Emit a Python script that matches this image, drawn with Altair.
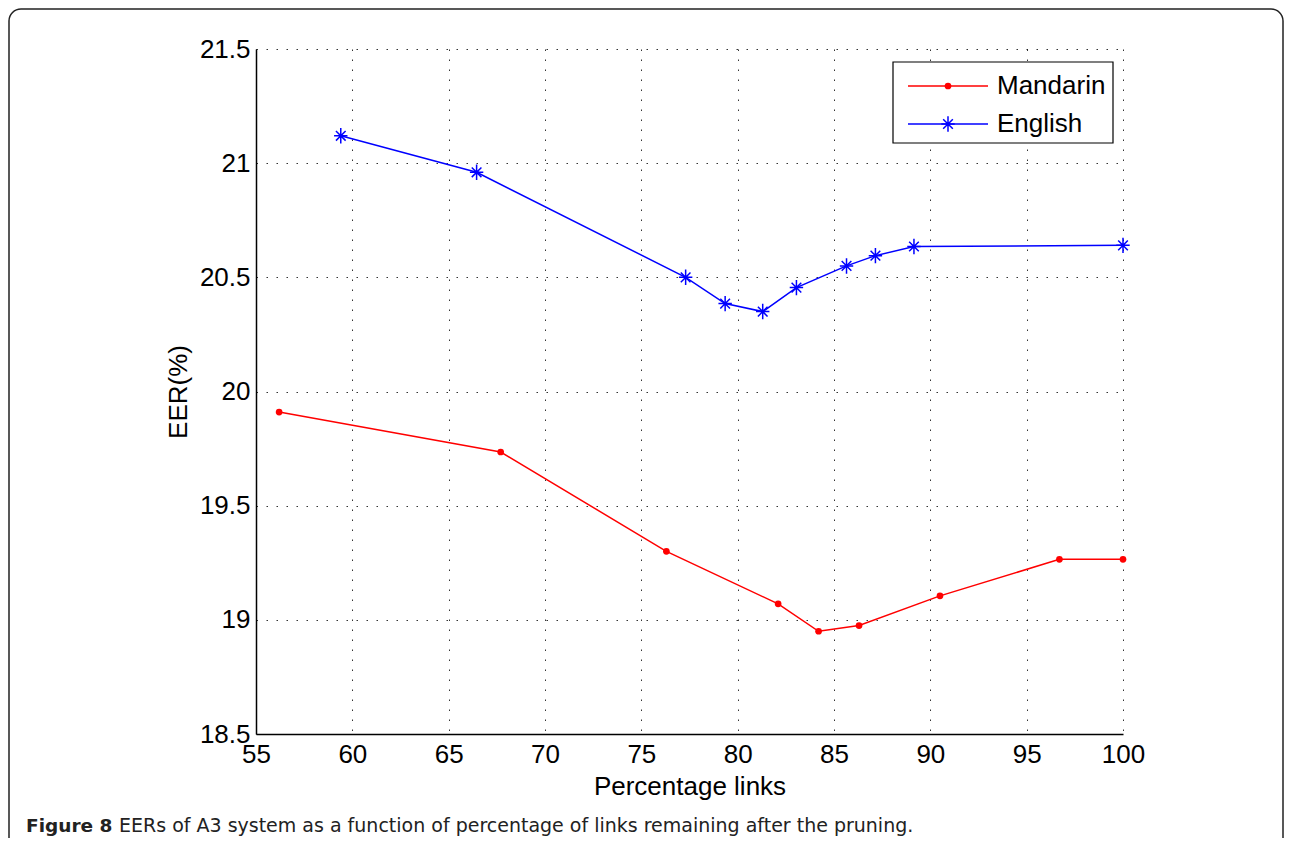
import altair as alt
import pandas as pd

# ---- data ----
series_names = ["Mandarin", "English"]
mandarin_x = [56.2, 67.7, 76.3, 82.1, 84.2, 86.3, 90.5, 96.7, 100.0]
mandarin_y = [19.91, 19.735, 19.30, 19.07, 18.95, 18.975, 19.105, 19.265, 19.265]
english_x = [59.4, 66.45, 77.3, 79.35, 81.3, 83.05, 85.65, 87.15, 89.15, 100.0]
english_y = [21.12, 20.96, 20.50, 20.385, 20.35, 20.455, 20.55, 20.595, 20.635, 20.64]
x_ticks = [55, 60, 65, 70, 75, 80, 85, 90, 95, 100]
y_ticks = [18.5, 19.0, 19.5, 20.0, 20.5, 21.0, 21.5]
caption_bold = "Figure 8"
caption_text = "EERs of A3 system as a function of percentage of links remaining after the pruning."

df = pd.concat([
    pd.DataFrame({"links": mandarin_x, "eer": mandarin_y, "series": "Mandarin", "order": range(len(mandarin_x))}),
    pd.DataFrame({"links": english_x, "eer": english_y, "series": "English", "order": range(len(english_x))}),
], ignore_index=True)
legend_df = pd.DataFrame({"series": series_names, "row": list(range(len(series_names)))})

FONT = "Liberation Sans"
CAP_FONT = "DejaVu Sans"
colors = ["#ff0000", "#0000ff"]
ASTER = "M0,-1.15L0,1.15M-1,0L1,0M-0.72,-0.72L0.72,0.72M-0.72,0.72L0.72,-0.72"

W, H = 867, 685

x_enc = alt.X("links:Q", scale=alt.Scale(domain=[55, 100], nice=False, zero=False),
              axis=alt.Axis(values=x_ticks, title="Percentage links", grid=True,
                            labelFlush=False, labelOverlap=False))
y_enc = alt.Y("eer:Q", scale=alt.Scale(domain=[18.5, 21.5], nice=False, zero=False),
              axis=alt.Axis(values=y_ticks, title="EER(%)", grid=True,
                            labelExpr="'' + datum.value", labelFlush=False, labelOverlap=False))

base = alt.Chart(df)

lines = base.mark_line(strokeWidth=1.5).encode(
    x=x_enc, y=y_enc, order="order:Q",
    stroke=alt.Stroke("series:N", scale=alt.Scale(domain=series_names, range=colors), legend=None),
)
mand_pts = base.transform_filter(alt.datum.series == "Mandarin").mark_point(
    filled=True, color="#ff0000", size=45, shape="circle", opacity=1
).encode(x=x_enc, y=y_enc)
eng_pts = base.transform_filter(alt.datum.series == "English").mark_point(
    filled=False, color="#0000ff", size=180, shape=ASTER, strokeWidth=1.5, opacity=1
).encode(x=x_enc, y=y_enc)

plot = alt.layer(lines, mand_pts, eng_pts)

# ---- legend (box, line samples, markers, labels) ----
y_leg = alt.Y("row:Q", scale=alt.Scale(domain=[0, 1], range=[37, 75]), axis=None)
lbase = alt.Chart(legend_df)
frame_df = pd.DataFrame({"k": [0]})

leg_box = alt.Chart(frame_df).mark_rect(
    fill="white", stroke="#000000", strokeWidth=1.2
).encode(x=alt.value(637), x2=alt.value(857), y=alt.value(13), y2=alt.value(94))
leg_rule = lbase.mark_rule(strokeWidth=1.5).encode(
    x=alt.value(652), x2=alt.value(732), y=y_leg,
    color=alt.Color("series:N", scale=alt.Scale(domain=series_names, range=colors), legend=None),
)
leg_m = lbase.transform_filter(alt.datum.series == "Mandarin").mark_point(
    filled=True, color="#ff0000", size=45, shape="circle", opacity=1
).encode(x=alt.value(692), y=y_leg)
leg_e = lbase.transform_filter(alt.datum.series == "English").mark_point(
    filled=False, color="#0000ff", size=180, shape=ASTER, strokeWidth=1.5, opacity=1
).encode(x=alt.value(692), y=y_leg)
leg_txt = lbase.mark_text(font=FONT, fontSize=26, align="left", baseline="middle", color="#000000").encode(
    x=alt.value(741), y=y_leg, text="series:N"
)
legend = alt.layer(leg_box, leg_rule, leg_m, leg_e, leg_txt)

# ---- figure frame and caption ----
frame = alt.Chart(frame_df).mark_rect(
    fill="white", fillOpacity=0, stroke="#222222", strokeWidth=1.5, cornerRadius=12
).encode(x=alt.value(-247), x2=alt.value(1027), y=alt.value(-40), y2=alt.value(820))
cap1 = alt.Chart(frame_df).mark_text(
    text=caption_bold, font=CAP_FONT, fontWeight="bold", fontSize=18.5,
    align="left", baseline="alphabetic", color="#222222"
).encode(x=alt.value(-230), y=alt.value(783))
cap2 = alt.Chart(frame_df).mark_text(
    text=caption_text, font=CAP_FONT, fontSize=19,
    align="left", baseline="alphabetic", color="#222222"
).encode(x=alt.value(-137), y=alt.value(783))

chart = alt.layer(frame, plot, legend, cap1, cap2).resolve_scale(y="independent").properties(
    width=W, height=H,
    autosize=alt.AutoSizeParams(type="none"),
    padding={"left": 248, "top": 41, "right": 161, "bottom": 104},
).configure_view(stroke=None).configure_axis(
    labelFont=FONT, labelFontSize=26, labelColor="#000000",
    titleFont=FONT, titleFontSize=26, titleColor="#000000", titleFontWeight="normal",
    domainColor="#000000", domainWidth=1.5, ticks=False,
    gridColor="#000000", gridDash=[1.5, 8.5], gridWidth=1, gridOpacity=0.8,
    labelPadding=6,
).configure_axisX(titlePadding=6, labelPadding=7).configure_axisY(titlePadding=8)

chart.save("out.html", embed_options={"renderer": "svg", "actions": False})
